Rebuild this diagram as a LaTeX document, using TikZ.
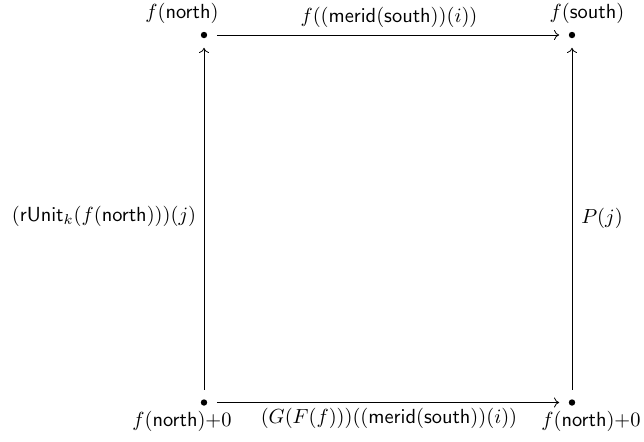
\documentclass[tikz,border=0pt]{standalone}
\usetikzlibrary{arrows.meta}
\begin{document}
\begin{tikzpicture}[x=0.5pt,y=-0.5pt,
  dotnode/.style={circle,fill,inner sep=0pt,minimum size=3.2pt,outer sep=4.8pt},
  lbl/.style={inner sep=0pt,anchor=center,scale=1.02},
  arr/.style={-{To[length=2.6pt,width=5pt]},line width=0.4pt}]
\useasboundingbox (0,0) rectangle (644,441);
\node[dotnode] (tl) at (204,35) {};
\node[dotnode] (tr) at (572,35) {};
\node[dotnode] (bl) at (204,402.5) {};
\node[dotnode] (br) at (572,402.5) {};
\node[lbl] (ltl) at (182,13) {$f(\mathsf{north})$};
\node[lbl] (ltr) at (587,13) {$f(\mathsf{south})$};
\node[lbl] (lbl) at (182,421) {$f(\mathsf{north}){+}0$};
\node[lbl] (lbr) at (591,421) {$f(\mathsf{north}){+}0$};
\draw[arr] (bl) -- (tl);
\draw[arr] (br) -- (tr);
\draw[arr] (tl) -- (tr);
\draw[arr] (bl) -- (br);
\node[lbl] (etop) at (389,17) {$f((\mathsf{merid}(\mathsf{south}))(i))$};
\node[lbl] (ebot) at (389,418) {$(G(F(f)))((\mathsf{merid}(\mathsf{south}))(i))$};
\node[lbl] (eleft) at (104,216) {$(\mathsf{rUnit}_k(f(\mathsf{north})))(j)$};
\node[lbl] (eright) at (602,218) {$P(j)$};
\end{tikzpicture}
\end{document}
